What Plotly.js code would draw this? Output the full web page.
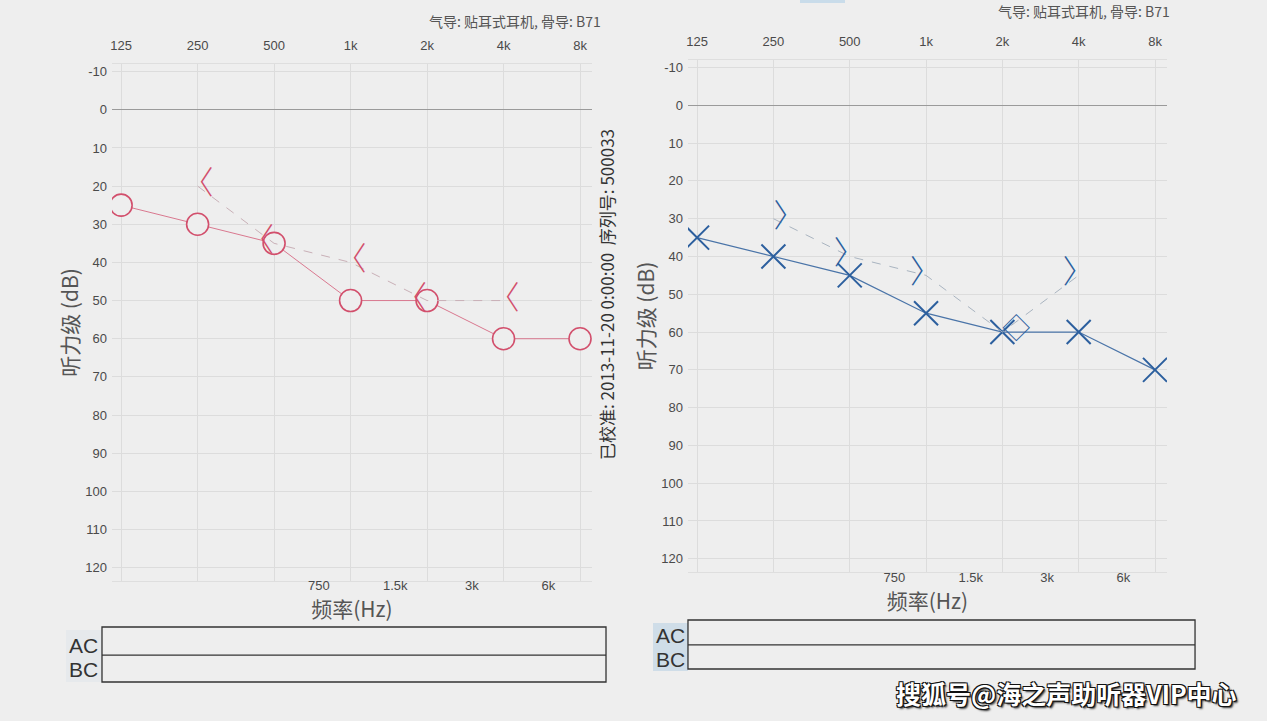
<!DOCTYPE html>
<html><head><meta charset="utf-8">
<script src="https://cdn.plot.ly/plotly-3.0.1.min.js"></script>
<style>html,body{margin:0;padding:0;background:#eeeeee;}#chart{width:1267px;height:721px;}</style>
</head><body><div id="chart"></div>
<script>
// ---- data ----
const freqs = [125, 250, 500, 1000, 2000, 4000, 8000];
const freqLabels = ['125', '250', '500', '1k', '2k', '4k', '8k'];
const midFreqs = [750, 1500, 3000, 6000];
const midLabels = ['750', '1.5k', '3k', '6k'];
const dbTicks = [-10, 0, 10, 20, 30, 40, 50, 60, 70, 80, 90, 100, 110, 120];
const dbLabels = ['-10', '0', '10', '20', '30', '40', '50', '60', '70', '80', '90', '100', '110', '120'];
const bcFreqs = [250, 500, 1000, 2000, 4000];
// right ear (red, left panel)
const rightAC = [25, 30, 35, 50, 50, 60, 60];
const rightBC = [20, 35, 40, 50, 50];
// left ear (blue, right panel)
const leftAC = [35, 40, 45, 55, 60, 60, 70];
const leftBC = [30, 40, 45, 60, 45];
const rightBCText = ['〈', '〈', '〈', '〈', '〈'];
const leftBCText = ['〉', '〉', '〉', '◇', '〉'];

const RED = '#d24f6c', RED_LINE = '#d9788f', RED_DASH = '#c9b0b7';
const BLUE = '#2c5f9e', BLUE_LINE = '#4a74a8', BLUE_DASH = '#a9b4c0';
const BG = '#eeeeee';

const traces = [
  {x: freqs, y: rightAC, xaxis: 'x', yaxis: 'y', mode: 'lines+markers',
   line: {color: RED_LINE, width: 1},
   marker: {symbol: 'circle', size: 22, color: BG, line: {color: RED, width: 1.6}}},
  {x: bcFreqs, y: rightBC, xaxis: 'x3', yaxis: 'y', mode: 'lines+text', text: rightBCText,
   textposition: ['middle center', 'middle left', 'middle center', 'middle left', 'middle center'],
   textfont: {family: 'Noto Sans CJK SC', size: 32, weight: 300, color: RED},
   line: {color: RED_DASH, width: 1, dash: 'dash'}, hoverinfo: 'skip'},
  {x: freqs, y: leftAC, xaxis: 'x2', yaxis: 'y2', mode: 'lines+markers',
   line: {color: BLUE_LINE, width: 1.2},
   marker: {symbol: 'x-thin-open', size: 24, color: BLUE, line: {color: BLUE, width: 2}}},
  {x: bcFreqs, y: leftBC, xaxis: 'x4', yaxis: 'y2', mode: 'lines+text', text: leftBCText,
   textposition: ['middle right', 'middle center', 'middle center', 'middle right', 'middle center'],
   textfont: {family: 'Noto Sans CJK SC', size: [32, 32, 32, 28, 32], weight: 300, color: BLUE},
   line: {color: BLUE_DASH, width: 1, dash: 'dash'}, hoverinfo: 'skip'}
];

const xr = [2.061, 3.950];
const yr = [123.5, -12];
const tickFont = {family: 'Liberation Sans', size: 13, color: '#4a4a4a'};
const titleFont = {family: 'Noto Sans CJK SC', size: 21, color: '#555'};
function topX(dom, anchor) {
  return {type: 'log', range: xr, domain: dom, anchor: anchor, side: 'top', tickvals: freqs, ticktext: freqLabels,
    ticks: '', ticklabelstandoff: 8, tickfont: tickFont, showgrid: true, gridcolor: '#dcdcdc',
    showline: true, linecolor: '#dedede', mirror: true, zeroline: false, fixedrange: true};
}
function midX(over, pos) {
  return {type: 'log', range: xr, overlaying: over, anchor: 'free', position: pos, side: 'bottom',
    tickvals: midFreqs, ticktext: midLabels,
    ticks: '', ticklabelstandoff: 0, tickfont: tickFont, showgrid: false, showline: false, zeroline: false,
    title: {text: '频率(Hz)', font: titleFont, standoff: 0}};
}
function yAx(dom, anchor) {
  return {range: yr, domain: dom, anchor: anchor, tickvals: dbTicks, ticktext: dbLabels, ticks: '', ticklabelstandoff: 4,
    tickfont: tickFont, showgrid: true, gridcolor: '#dcdcdc', zeroline: true, zerolinecolor: '#9a9a9a',
    zerolinewidth: 1.2, showline: false,
    title: {text: '听力级 (dB)', font: titleFont, standoff: 0}};
}

function ann(x, y, text, font, extra) {
  return Object.assign({xref: 'paper', yref: 'paper', x: x / 1267, y: 1 - y / 721, xanchor: 'center', yanchor: 'middle',
    showarrow: false, text: text, font: font}, extra || {});
}
const acbc = {family: 'Liberation Sans', size: 21, color: '#333'};
const hdr = {family: 'Noto Sans CJK SC', size: 14, color: '#555'};

const layout = {
  width: 1267, height: 721, paper_bgcolor: BG, plot_bgcolor: BG, showlegend: false,
  margin: {l: 0, r: 0, t: 0, b: 0},
  xaxis: topX([0.0884, 0.4672], 'y'),
  xaxis3: midX('x', 1 - 576 / 721),
  xaxis2: topX([0.543, 0.921], 'y2'),
  xaxis4: midX('x2', 1 - 568 / 721),
  yaxis: yAx([1 - 581 / 721, 1 - 64 / 721], 'x'),
  yaxis2: yAx([1 - 572 / 721, 1 - 60 / 721], 'x2'),
  shapes: [
    {type: 'rect', xref: 'paper', yref: 'paper', x0: 653 / 1267, x1: 688 / 1267, y0: 1 - 671 / 721, y1: 1 - 623 / 721, fillcolor: '#cfdde8', line: {width: 0}, layer: 'below'},
    {type: 'rect', xref: 'paper', yref: 'paper', x0: 66 / 1267, x1: 102 / 1267, y0: 1 - 682 / 721, y1: 1 - 630 / 721, fillcolor: '#e6e9ec', line: {width: 0}, layer: 'below'},
    {type: 'rect', xref: 'paper', yref: 'paper', x0: 0.0805, x1: 0.4783, y0: 0.0541, y1: 0.1304, line: {color: '#333', width: 1.3}},
    {type: 'line', xref: 'paper', yref: 'paper', x0: 0.0805, x1: 0.4783, y0: 0.0915, y1: 0.0915, line: {color: '#333', width: 1.3}},
    {type: 'rect', xref: 'paper', yref: 'paper', x0: 0.543, x1: 0.9432, y0: 0.0721, y1: 0.1401, line: {color: '#333', width: 1.3}},
    {type: 'line', xref: 'paper', yref: 'paper', x0: 0.543, x1: 0.9432, y0: 0.1055, y1: 0.1055, line: {color: '#333', width: 1.3}},
    {type: 'rect', xref: 'paper', yref: 'paper', x0: 800 / 1267, x1: 845 / 1267, y0: 1 - 3 / 721, y1: 1.0, fillcolor: '#c9dcea', line: {width: 0}}
  ],
  annotations: [
    ann(603, 21, '气导: 贴耳式耳机, 骨导: B71', hdr, {xanchor: 'right'}),
    ann(1172, 11, '气导: 贴耳式耳机, 骨导: B71', hdr, {xanchor: 'right'}),
    ann(606, 295, '已校准: 2013-11-20 0:00:00  序列号: 500033', {family: 'Noto Sans CJK SC', size: 17, color: '#333'}, {textangle: -90}),
    ann(83, 645, 'AC', acbc),
    ann(83, 669, 'BC', acbc),
    ann(670, 635, 'AC', acbc),
    ann(670, 659, 'BC', acbc),
    ann(1066, 693, '搜狐号@海之声助听器VIP中心',
      {family: 'Noto Sans CJK SC', size: 25, weight: 700, color: '#ffffff',
       shadow: '1px 1px 0 #111, -1px -1px 0 #111, 1px -1px 0 #111, -1px 1px 0 #111, 2px 2px 2px #333'})
  ]
};
Plotly.newPlot('chart', traces, layout, {staticPlot: true});
</script></body></html>
